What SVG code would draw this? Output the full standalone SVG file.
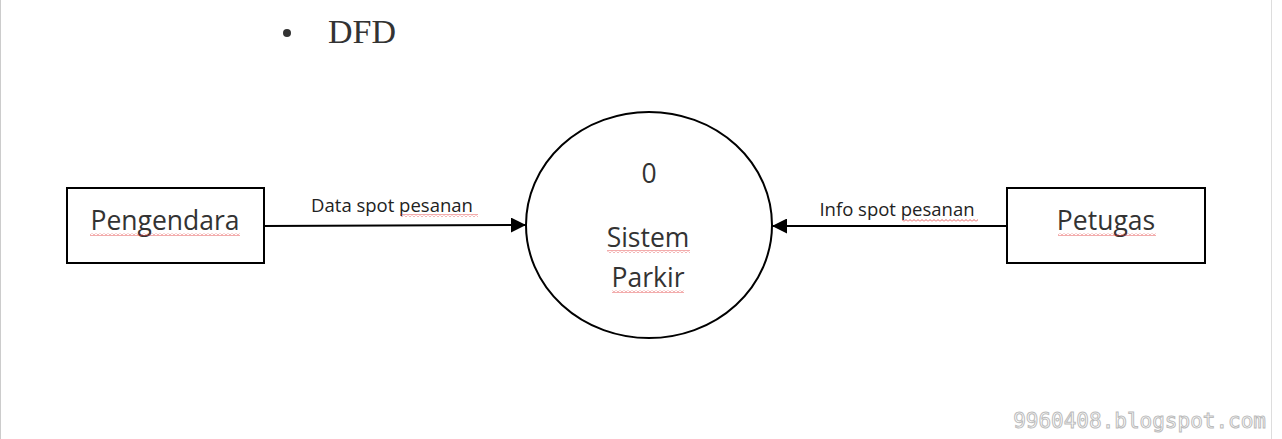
<svg xmlns="http://www.w3.org/2000/svg" width="1282" height="439" viewBox="0 0 1282 439">
<defs>
<marker id="ah" viewBox="0 0 10 10" refX="10" refY="5" markerWidth="15" markerHeight="15" markerUnits="userSpaceOnUse" orient="auto"><path d="M0,0 L10,5 L0,10 z" fill="#000"/></marker>
<pattern id="wv" width="4" height="3" patternUnits="userSpaceOnUse"><path d="M0,2.5 L2,0.5 L4,2.5" fill="none" stroke="#e03030" stroke-width="0.8"/></pattern>
</defs>
<style>
.box{fill:#fff;stroke:#000;stroke-width:2}
.t{font-family:"Open Sans","Liberation Sans",sans-serif;fill:#333;text-anchor:middle}
.lbl{font-family:"Open Sans","Liberation Sans",sans-serif;fill:#222;font-size:18.5px;text-anchor:middle}
.line{stroke:#000;stroke-width:2;fill:none}
</style>
<rect width="1282" height="439" fill="#fff"/>
<line x1="0.5" y1="0" x2="0.5" y2="439" stroke="#ccc"/>
<line x1="1271.5" y1="0" x2="1271.5" y2="439" stroke="#ddd"/>
<circle cx="287" cy="33" r="4" fill="#333"/>
<text x="328" y="43" font-family="Liberation Serif,serif" font-size="34" fill="#333">DFD</text>
<g id="pengendara"><rect class="box" x="67" y="188" width="197" height="75"/><text class="t" x="165" y="230" font-size="26.5">Pengendara</text><rect x="90" y="233" width="150" height="3" fill="url(#wv)"/></g>
<g id="petugas"><rect class="box" x="1007" y="188" width="198" height="75"/><text class="t" x="1106" y="230" font-size="26.5">Petugas</text><rect x="1058" y="233" width="98" height="3" fill="url(#wv)"/></g>
<g id="sistem"><ellipse class="box" cx="649" cy="225" rx="123" ry="113"/><text class="t" x="649" y="183" font-size="26.5">0</text><text class="t" x="648" y="247" font-size="26.5">Sistem</text><rect x="607" y="250" width="83" height="3" fill="url(#wv)"/><text class="t" x="648" y="287" font-size="26.5">Parkir</text><rect x="612" y="290" width="72" height="3" fill="url(#wv)"/></g>
<g id="connectors">
<line class="line" x1="264" y1="226" x2="526" y2="225" marker-end="url(#ah)"/>
<text class="lbl" x="392" y="212">Data spot pesanan</text><rect x="400" y="214" width="78" height="3" fill="url(#wv)"/>
<line class="line" x1="1007" y1="226" x2="772" y2="226" marker-end="url(#ah)"/>
<text class="lbl" x="897" y="216">Info spot pesanan</text><rect x="902" y="219" width="76" height="3" fill="url(#wv)"/>
</g>
<text x="1266" y="428" font-family="DejaVu Sans Mono,monospace" font-size="21" fill="#fff" stroke="#bbb" stroke-width="1" text-anchor="end">9960408.blogspot.com</text>
</svg>
